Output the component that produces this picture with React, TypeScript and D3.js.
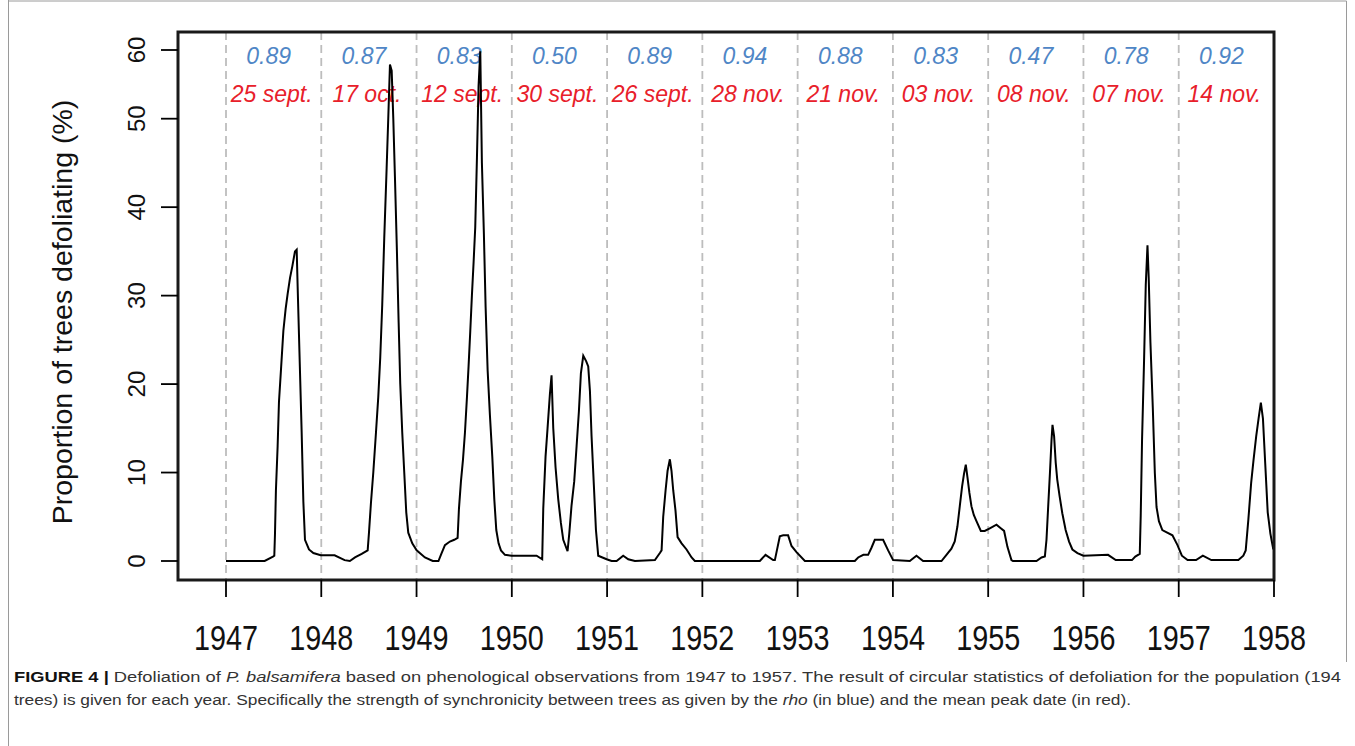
import React from 'react';
import * as d3 from 'd3';

// ---------- data ----------
const yearTicks = [1947, 1948, 1949, 1950, 1951, 1952, 1953, 1954, 1955, 1956, 1957, 1958];
const observationYears = [1947, 1948, 1949, 1950, 1951, 1952, 1953, 1954, 1955, 1956, 1957];
const rhoLabels = ['0.89', '0.87', '0.83', '0.50', '0.89', '0.94', '0.88', '0.83', '0.47', '0.78', '0.92'];
const peakDates = ['25 sept.', '17 oct.', '12 sept.', '30 sept.', '26 sept.', '28 nov.', '21 nov.', '03 nov.', '08 nov.', '07 nov.', '14 nov.'];
const yTicks = [0, 10, 20, 30, 40, 50, 60];

// observation time (decimal year)
const time = [
  1947.000, 1947.406, 1947.493, 1947.507, 1947.514, 1947.524, 1947.542, 1947.556, 1947.577, 1947.602,
  1947.626, 1947.647, 1947.672, 1947.696, 1947.724, 1947.742, 1947.752, 1947.773, 1947.794, 1947.812,
  1947.829, 1947.871, 1947.917, 1947.994,
  1948.140, 1948.245, 1948.300, 1948.354, 1948.424, 1948.487, 1948.500, 1948.521, 1948.546, 1948.574,
  1948.598, 1948.619, 1948.640, 1948.661, 1948.686, 1948.703, 1948.721, 1948.739, 1948.756, 1948.773,
  1948.794, 1948.812, 1948.829, 1948.850, 1948.871, 1948.892, 1948.913, 1948.955,
  1949.001, 1949.088, 1949.170, 1949.230, 1949.260, 1949.298, 1949.350, 1949.396, 1949.431, 1949.445,
  1949.466, 1949.487, 1949.508, 1949.529, 1949.546, 1949.564, 1949.581, 1949.599, 1949.616, 1949.634,
  1949.651, 1949.669, 1949.686, 1949.707, 1949.725, 1949.746, 1949.770, 1949.795, 1949.816, 1949.837,
  1949.861, 1949.886, 1949.928, 1949.998,
  1950.260, 1950.319, 1950.330, 1950.354, 1950.375, 1950.400, 1950.417, 1950.435, 1950.459, 1950.487,
  1950.515, 1950.540, 1950.585, 1950.603, 1950.627, 1950.655, 1950.680, 1950.704, 1950.725, 1950.750,
  1950.780, 1950.802, 1950.820, 1950.837, 1950.861, 1950.883, 1950.907, 1950.995,
  1951.047, 1951.100, 1951.169, 1951.222, 1951.292, 1951.502, 1951.554, 1951.572, 1951.589, 1951.614,
  1951.635, 1951.659, 1951.676, 1951.694, 1951.718, 1951.740, 1951.782, 1951.834, 1951.887, 1951.921,
  1952.603, 1952.663, 1952.743, 1952.761, 1952.813, 1952.848, 1952.900, 1952.936, 1952.988,
  1953.076, 1953.600, 1953.635, 1953.690, 1953.740, 1953.775, 1953.810, 1953.897, 1953.950,
  1954.002, 1954.177, 1954.247, 1954.317, 1954.510, 1954.562, 1954.614, 1954.649, 1954.677, 1954.702,
  1954.726, 1954.747, 1954.765, 1954.782, 1954.803, 1954.824, 1954.849, 1954.877, 1954.923, 1954.964,
  1955.017, 1955.087, 1955.132, 1955.167, 1955.202, 1955.244, 1955.260, 1955.507, 1955.560, 1955.595,
  1955.612, 1955.630, 1955.648, 1955.665, 1955.675, 1955.692, 1955.709, 1955.725, 1955.750, 1955.778,
  1955.813, 1955.849, 1955.884, 1955.937, 1955.999,
  1956.258, 1956.339, 1956.509, 1956.544, 1956.591, 1956.601, 1956.615, 1956.636, 1956.654, 1956.672,
  1956.685, 1956.703, 1956.728, 1956.749, 1956.767, 1956.792, 1956.828, 1956.864, 1956.934, 1956.987,
  1957.033, 1957.093, 1957.182, 1957.253, 1957.342, 1957.626, 1957.678, 1957.703, 1957.731, 1957.760,
  1957.785, 1957.813, 1957.838, 1957.862, 1957.884, 1957.908, 1957.934, 1957.962, 1957.991, 1958.000,
];

// proportion of trees defoliating (%)
const pct = [
  0, 0, 0.5, 0.6, 3.0, 8.0, 13.0, 18.0, 21.6, 26.0,
  28.5, 30.2, 32.0, 33.3, 35.0, 35.2, 31.0, 22.8, 14.6, 6.7,
  2.4, 1.3, 0.9, 0.65,
  0.65, 0.1, 0.0, 0.4, 0.8, 1.2, 3.1, 6.5, 10.0, 14.5,
  18.5, 23.0, 29.0, 36.5, 44.4, 50.0, 57.9, 57.0, 50.0, 43.5,
  35.0, 27.0, 20.0, 14.5, 10.0, 5.5, 3.2, 2.0,
  1.2, 0.4, 0.0, 0.0, 0.8, 1.8, 2.2, 2.4, 2.6, 5.9,
  9.0, 11.4, 14.5, 18.5, 22.0, 26.0, 30.0, 33.8, 37.7, 45.6,
  54.8, 59.8, 45.0, 36.9, 28.7, 21.6, 16.5, 11.8, 7.0, 3.5,
  2.0, 1.2, 0.7, 0.6,
  0.6, 0.2, 5.9, 11.8, 15.0, 18.9, 21.0, 15.0, 10.6, 7.0,
  4.3, 2.4, 1.1, 3.1, 6.3, 9.0, 13.0, 16.9, 21.2, 23.2,
  22.6, 22.0, 19.2, 14.1, 8.6, 3.5, 0.6, 0.2,
  0.0, 0.0, 0.6, 0.2, 0.0, 0.1, 0.9, 1.2, 5.0, 8.0,
  10.2, 11.5, 10.2, 8.0, 5.7, 2.7, 2.0, 1.3, 0.4, 0.0,
  0.0, 0.7, 0.1, 0.1, 2.8, 2.9, 2.9, 1.7, 1.0,
  0.0, 0.0, 0.4, 0.7, 0.7, 1.5, 2.4, 2.4, 1.2,
  0.1, 0.0, 0.6, 0.0, 0.0, 0.7, 1.4, 2.2, 3.9, 6.2,
  8.4, 9.9, 10.9, 9.5, 7.7, 6.2, 5.2, 4.5, 3.4, 3.4,
  3.7, 4.1, 3.7, 3.4, 1.6, 0.1, 0.0, 0.0, 0.4, 0.5,
  2.4, 6.2, 9.9, 13.7, 15.4, 14.1, 11.1, 9.2, 7.3, 5.4,
  3.5, 2.2, 1.3, 0.9, 0.6,
  0.7, 0.1, 0.1, 0.5, 0.8, 5.1, 13.7, 22.6, 31.2, 35.7,
  32.0, 24.7, 17.3, 10.0, 6.1, 4.5, 3.5, 3.3, 2.9, 1.8,
  0.6, 0.1, 0.1, 0.6, 0.1, 0.1, 0.6, 1.2, 4.7, 8.8,
  11.4, 14.1, 16.1, 17.9, 16.1, 11.0, 5.5, 3.1, 1.4, 1.3,
];

const captionLine1Parts = [
  { t: 'FIGURE 4 | ', w: 'bold', s: 'normal', c: '#111' },
  { t: 'Defoliation of ', w: 'normal', s: 'normal', c: '#333' },
  { t: 'P. balsamifera', w: 'normal', s: 'italic', c: '#333' },
  { t: ' based on phenological observations from 1947 to 1957. The result of circular statistics of defoliation for the population (194', w: 'normal', s: 'normal', c: '#333' },
];
const captionLine2Parts = [
  { t: 'trees) is given for each year. Specifically the strength of synchronicity between trees as given by the ', w: 'normal', s: 'normal', c: '#333' },
  { t: 'rho', w: 'normal', s: 'italic', c: '#333' },
  { t: ' (in blue) and the mean peak date (in red).', w: 'normal', s: 'normal', c: '#333' },
];

const FONT = '"Liberation Sans", Arial, Helvetica, sans-serif';

export default function App() {
  const W = 1355;
  const H = 746;
  const box = { left: 178, right: 1274, top: 32, bottom: 580 };
  const x = d3.scaleLinear().domain([1947, 1958]).range([226, box.right]);
  const y = d3.scaleLinear().domain([0, 50, 60]).range([561, 118.7, 50]);

  const lineGen = d3
    .line<number>()
    .x((_, i) => x(time[i]))
    .y((d) => y(d));
  const path = lineGen(pct) || '';

  return (
    <svg
      width={W}
      height={H}
      viewBox={`0 0 ${W} ${H}`}
      style={{ position: 'absolute', left: 0, top: 0, background: '#fff' }}
      fontFamily={FONT}
    >
      <rect x={0} y={0} width={W} height={H} fill="#fff" />
      {/* page frame */}
      <line x1={8.5} x2={8.5} y1={0} y2={H} stroke="#9a9a9a" strokeWidth={1} />
      <line x1={8.5} x2={1346.5} y1={1} y2={1} stroke="#9a9a9a" strokeWidth={1} />
      <line x1={1346.5} x2={1346.5} y1={1} y2={662} stroke="#9a9a9a" strokeWidth={1} />

      {/* year separators */}
      {observationYears.map((yr) => (
        <line
          key={'d' + yr}
          x1={x(yr)}
          x2={x(yr)}
          y1={box.top}
          y2={box.bottom}
          stroke="#bdbdbd"
          strokeWidth={1.8}
          strokeDasharray="8 5"
        />
      ))}

      {/* rho labels */}
      {observationYears.map((yr, i) => (
        <text
          key={'r' + yr}
          x={x(yr + 0.5) - 5}
          y={64}
          fontSize={23}
          fontStyle="italic"
          fill="#4f86c6"
          textAnchor="middle"
        >
          {rhoLabels[i]}
        </text>
      ))}
      {/* peak date labels */}
      {observationYears.map((yr, i) => (
        <text
          key={'p' + yr}
          x={x(yr + 0.5) - 2}
          y={102}
          fontSize={23}
          fontStyle="italic"
          fill="#e8202a"
          textAnchor="middle"
        >
          {peakDates[i]}
        </text>
      ))}

      {/* data line */}
      <path d={path} fill="none" stroke="#000" strokeWidth={2} strokeLinejoin="miter" />

      {/* plot box */}
      <rect
        x={box.left}
        y={box.top}
        width={box.right - box.left}
        height={box.bottom - box.top}
        fill="none"
        stroke="#1a1a1a"
        strokeWidth={3}
      />

      {/* y axis */}
      {yTicks.map((t) => (
        <g key={'y' + t}>
          <line x1={161} x2={box.left} y1={y(t)} y2={y(t)} stroke="#000" strokeWidth={1.8} />
          <text
            transform={`translate(145,${y(t)}) rotate(-90)`}
            fontSize={24}
            textAnchor="middle"
            fill="#111"
          >
            {t}
          </text>
        </g>
      ))}
      <text
        transform={`translate(72,312) rotate(-90)`}
        fontSize={28.5}
        textAnchor="middle"
        fill="#111"
      >
        Proportion of trees defoliating (%)
      </text>

      {/* x axis */}
      {yearTicks.map((yr) => (
        <g key={'x' + yr}>
          <line x1={x(yr)} x2={x(yr)} y1={box.bottom} y2={597} stroke="#000" strokeWidth={1.8} />
          <text
            x={x(yr)}
            y={650}
            fontSize={35}
            textAnchor="middle"
            textLength={64}
            lengthAdjust="spacingAndGlyphs"
            fill="#111"
          >
            {yr}
          </text>
        </g>
      ))}

      {/* caption */}
      <text x={14} y={682} fontSize={15.5} textLength={1327} lengthAdjust="spacingAndGlyphs">
        {captionLine1Parts.map((p, i) => (
          <tspan key={i} fontWeight={p.w} fontStyle={p.s} fill={p.c}>
            {p.t}
          </tspan>
        ))}
      </text>
      <text x={14} y={705} fontSize={15.5} textLength={1117} lengthAdjust="spacingAndGlyphs">
        {captionLine2Parts.map((p, i) => (
          <tspan key={i} fontWeight={p.w} fontStyle={p.s} fill={p.c}>
            {p.t}
          </tspan>
        ))}
      </text>
    </svg>
  );
}
